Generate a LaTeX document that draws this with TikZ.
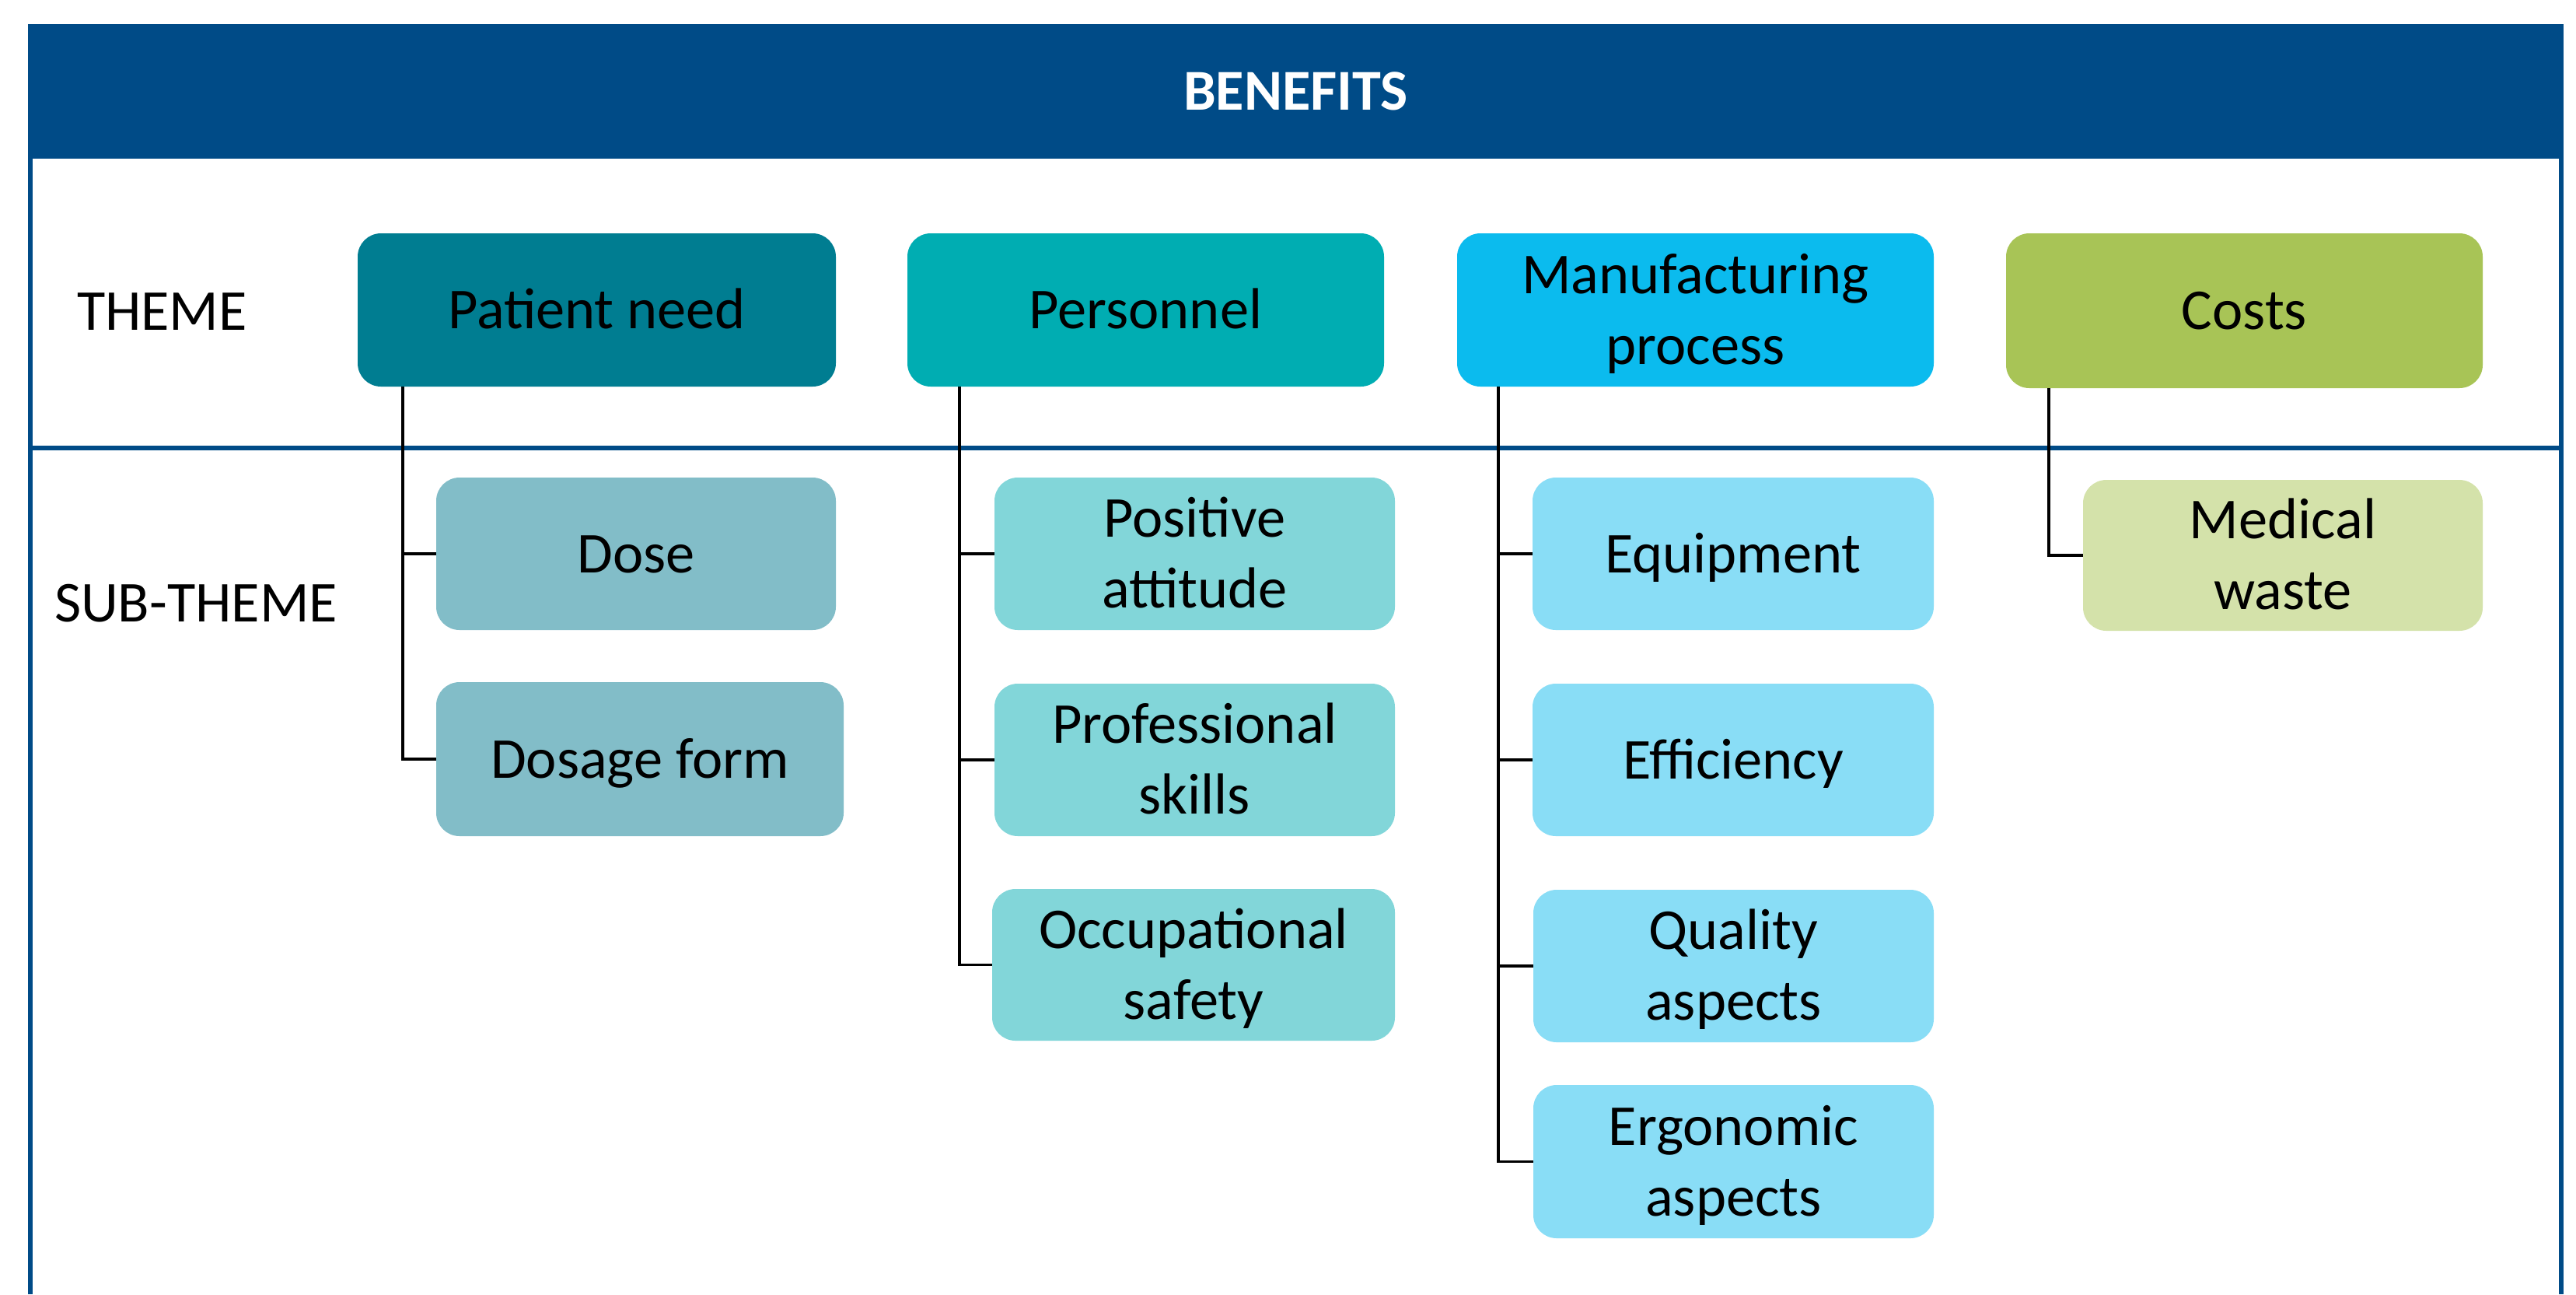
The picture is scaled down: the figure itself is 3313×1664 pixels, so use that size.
\documentclass[tikz,border=0pt]{standalone}
\usepackage{fontspec}
\setmainfont{Carlito}
\definecolor{hdr}{RGB}{0,75,135}
\definecolor{cPN}{RGB}{0,125,145}
\definecolor{cPE}{RGB}{0,173,178}
\definecolor{cMP}{RGB}{11,187,238}
\definecolor{cCO}{RGB}{168,196,86}
\definecolor{sPN}{RGB}{130,189,200}
\definecolor{sPE}{RGB}{130,214,217}
\definecolor{sMP}{RGB}{137,221,246}
\definecolor{sCO}{RGB}{212,226,170}
\newcommand{\sr}{\rule[-5.3pt]{0pt}{22.6pt}}
\newcommand{\bx}[7]{\node[#6, minimum width={(#4-#2)*0.25pt}, minimum height={(#5-#3)*0.25pt}] (#1) at ({(#2+#4)/2},{(#3+#5)/2}) {#7};}
\begin{document}
\begin{tikzpicture}[x=0.25pt,y=-0.25pt,
  txt/.style={font=\fontsize{18.6}{22.75}\selectfont, inner sep=0pt, outer sep=0pt},
  box/.style={txt, rounded corners=7.5pt, align=center},
  conn/.style={black, line width=0.8pt},
  frame/.style={hdr, line width=1.5pt}]
\useasboundingbox[fill=white] (0,0) rectangle (3313,1664);
% header
\bx{hd}{36}{31}{3297}{204}{txt,fill=hdr,text=white,font=\fontsize{18.6}{22.75}\selectfont\bfseries}{\sr BENEFITS}
% frame lines
\draw[frame] (hd.south west) ++(3,0) coordinate (fl) -- (fl |- 0,1664);
\draw[frame] (hd.south east) ++(-3,0) coordinate (fr) -- (fr |- 0,1664);
\coordinate (dl) at (39,576);
\coordinate (dr) at (3294,576);
\draw[frame] (dl) -- (dr);
% row labels
\node[txt, anchor=base west] (th) at (99,424) {THEME};
\node[txt, anchor=base west] (sth) at (70,799) {SUB-THEME};
% themes
\bx{pn}{460}{300}{1075}{497}{box,fill=cPN}{\sr Patient need}
\bx{per}{1167}{300}{1780}{497}{box,fill=cPE}{\sr Personnel}
\bx{mp}{1874}{300}{2487}{497}{box,fill=cMP}{\sr Manufacturing\\\sr process}
\bx{co}{2580}{300}{3193}{499}{box,fill=cCO}{\sr Costs}
% sub-themes
\bx{dose}{561}{614}{1075}{810}{box,fill=sPN}{\sr Dose}
\bx{dform}{561}{877}{1085}{1075}{box,fill=sPN}{\sr Dosage form}
\bx{pos}{1279}{614}{1794}{810}{box,fill=sPE}{\sr Positive\\\sr attitude}
\bx{prof}{1279}{879}{1794}{1075}{box,fill=sPE}{\sr Professional\\\sr skills}
\bx{occ}{1276}{1143}{1794}{1338}{box,fill=sPE}{\sr Occupational\\\sr safety}
\bx{equ}{1971}{614}{2487}{810}{box,fill=sMP}{\sr Equipment}
\bx{eff}{1971}{879}{2487}{1075}{box,fill=sMP}{\sr Efficiency}
\bx{qua}{1972}{1144}{2487}{1340}{box,fill=sMP}{\sr Quality\\\sr aspects}
\bx{erg}{1972}{1395}{2487}{1592}{box,fill=sMP}{\sr Ergonomic\\\sr aspects}
\bx{med}{2679}{617}{3193}{811}{box,fill=sCO}{\sr Medical\\\sr waste}
% connector columns
\coordinate (xpn) at (518,0);
\coordinate (xpe) at (1234,0);
\coordinate (xmp) at (1927,0);
\coordinate (xco) at (2635,0);
\draw[conn] (pn.south -| xpn) |- (dose.west);
\draw[conn] (pn.south -| xpn) |- (dform.west);
\draw[conn] (per.south -| xpe) |- (pos.west);
\draw[conn] (per.south -| xpe) |- (prof.west);
\draw[conn] (per.south -| xpe) |- (occ.west);
\draw[conn] (mp.south -| xmp) |- (equ.west);
\draw[conn] (mp.south -| xmp) |- (eff.west);
\draw[conn] (mp.south -| xmp) |- (qua.west);
\draw[conn] (mp.south -| xmp) |- (erg.west);
\draw[conn] (co.south -| xco) |- (med.west);
\end{tikzpicture}
\end{document}
